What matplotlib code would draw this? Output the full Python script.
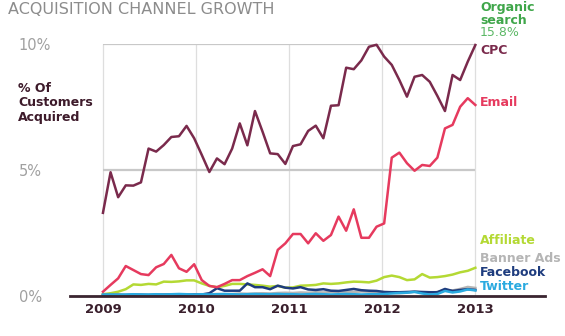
#!/usr/bin/env python3
"""
Acquisition channel growth: share of customers acquired per channel, 2009-2013
"""

import numpy as np
import matplotlib.pyplot as plt

# --- data (% of customers acquired), 50 readings between Jan 2009 and Jan 2013 ---
cpc = [3.30, 4.91, 3.92, 4.39, 4.38, 4.51, 5.85, 5.73, 5.99, 6.31,
       6.34, 6.75, 6.26, 5.60, 4.92, 5.46, 5.23, 5.85, 6.85, 5.98,
       7.34, 6.52, 5.66, 5.63, 5.24, 5.95, 6.02, 6.55, 6.76, 6.26,
       7.55, 7.57, 9.06, 9.00, 9.35, 9.89, 9.97, 9.50, 9.17, 8.57,
       7.91, 8.70, 8.77, 8.50, 7.94, 7.34, 8.77, 8.57, 9.30, 9.96]
email = [0.17, 0.44, 0.70, 1.19, 1.03, 0.87, 0.83, 1.14, 1.27, 1.63,
         1.10, 0.96, 1.26, 0.63, 0.40, 0.35, 0.48, 0.63, 0.63, 0.79,
         0.92, 1.06, 0.79, 1.83, 2.09, 2.46, 2.46, 2.09, 2.49, 2.19,
         2.42, 3.15, 2.59, 3.44, 2.31, 2.31, 2.75, 2.88, 5.49, 5.69,
         5.27, 4.97, 5.20, 5.16, 5.49, 6.65, 6.79, 7.51, 7.85, 7.58]
affiliate = [0.07, 0.11, 0.17, 0.27, 0.46, 0.44, 0.48, 0.46, 0.57, 0.56,
             0.58, 0.62, 0.62, 0.50, 0.40, 0.35, 0.40, 0.48, 0.48, 0.46,
             0.44, 0.41, 0.37, 0.40, 0.33, 0.34, 0.41, 0.42, 0.44, 0.50,
             0.48, 0.50, 0.54, 0.57, 0.56, 0.54, 0.61, 0.75, 0.81, 0.75,
             0.63, 0.66, 0.87, 0.73, 0.75, 0.79, 0.85, 0.94, 1.00, 1.12]
banner_ads = [0.03, 0.03, 0.04, 0.03, 0.04, 0.04, 0.03, 0.04, 0.05, 0.04,
              0.05, 0.05, 0.04, 0.05, 0.06, 0.08, 0.07, 0.08, 0.10, 0.09,
              0.10, 0.11, 0.10, 0.12, 0.13, 0.12, 0.14, 0.13, 0.15, 0.14,
              0.16, 0.15, 0.17, 0.16, 0.18, 0.17, 0.16, 0.15, 0.12, 0.11,
              0.13, 0.18, 0.14, 0.12, 0.16, 0.24, 0.22, 0.28, 0.36, 0.32]
facebook = [0.04, 0.04, 0.05, 0.04, 0.05, 0.05, 0.04, 0.05, 0.05, 0.06,
            0.05, 0.05, 0.06, 0.06, 0.11, 0.31, 0.21, 0.21, 0.21, 0.50,
            0.35, 0.35, 0.27, 0.41, 0.33, 0.30, 0.35, 0.26, 0.24, 0.27,
            0.21, 0.20, 0.24, 0.28, 0.23, 0.21, 0.20, 0.16, 0.15, 0.15,
            0.16, 0.17, 0.16, 0.15, 0.15, 0.28, 0.20, 0.24, 0.27, 0.24]
twitter = [0.06, 0.06, 0.05, 0.06, 0.07, 0.06, 0.06, 0.07, 0.06, 0.07,
           0.08, 0.07, 0.06, 0.07, 0.06, 0.07, 0.08, 0.07, 0.06, 0.07,
           0.08, 0.07, 0.07, 0.08, 0.07, 0.07, 0.06, 0.07, 0.08, 0.07,
           0.06, 0.07, 0.08, 0.07, 0.06, 0.07, 0.07, 0.08, 0.10, 0.12,
           0.13, 0.16, 0.10, 0.06, 0.08, 0.20, 0.14, 0.18, 0.26, 0.22]
organic_share = '15.8%'

years = [2009, 2010, 2011, 2012, 2013]
ytick_vals = [0, 5, 10]
ytick_labels = ['0%', '5%', '10%']

x = np.linspace(years[0], years[-1], len(cpc))

# цвета каналов
C_CPC = '#7a2a4c'
C_EMAIL = '#e63a5e'
C_AFF = '#b4d934'
C_BANNER = '#b5b5b5'
C_FB = '#1e3c7e'
C_TW = '#2aaae0'
C_ORG = '#3fa64a'

W, H = 565, 336
fig = plt.figure(figsize=(W / 100, H / 100), dpi=100)
ax = fig.add_axes([70 / W, 40 / H, 475 / W, 252 / H])
ax.set_xlim(2008.646, 2013.748)
ax.set_ylim(0, 10)

# сетка только внутри 2009-2013
ax.vlines(years, 0, 10, color='#dedede', linewidth=0.9, zorder=1)
ax.hlines([5, 10], years[0], years[-1], color='#c8c8c8', linewidth=1.6, zorder=1)

# линии каналов
ax.plot(x, banner_ads, color=C_BANNER, linewidth=1.8, zorder=3, clip_on=False)
ax.plot(x, affiliate, color=C_AFF, linewidth=1.8, zorder=3, clip_on=False)
ax.plot(x, facebook, color=C_FB, linewidth=1.8, zorder=4, clip_on=False)
ax.plot(x, twitter, color=C_TW, linewidth=1.8, zorder=4, clip_on=False)
ax.plot(x, email, color=C_EMAIL, linewidth=1.8, zorder=5, clip_on=False)
ax.plot(x, cpc, color=C_CPC, linewidth=1.8, zorder=6, clip_on=False)

for s in ['top', 'right', 'left']:
    ax.spines[s].set_visible(False)
ax.spines['bottom'].set_color('#3a2530')
ax.spines['bottom'].set_linewidth(2)
ax.spines['bottom'].set_zorder(7)

ax.set_xticks(years)
ax.set_xticklabels([str(y) for y in years], fontsize=9.5, fontweight='bold',
                   color='#3a1f2c')
ax.tick_params(axis='x', length=0, pad=5)

ax.set_yticks(ytick_vals)
ax.set_yticklabels(ytick_labels, fontsize=10.5, color='#a0a0a0')
for lab in ax.get_yticklabels():
    lab.set_horizontalalignment('left')
ax.tick_params(axis='y', length=0, pad=37)

# заголовок и подпись оси
fig.text(8 / W, 1 - 9 / H, 'ACQUISITION CHANNEL GROWTH', fontsize=11.5,
         color='#8c8c8c', va='center', ha='left')
fig.text(18 / W, 1 - 103 / H, '% Of\nCustomers\nAcquired', fontsize=9,
         fontweight='bold', color='#3d1a2a', va='center', ha='left',
         linespacing=1.1)

# подписи серий справа
lx = 480 / W
fig.text(lx, 1 - 1 / H, 'Organic\nsearch', fontsize=9, color=C_ORG,
         fontweight='bold', va='top', ha='left', linespacing=1.05)
labels = [
    (organic_share, 33, '#5cb866', 'normal'),
    ('CPC', 50, C_CPC, 'bold'),
    ('Email', 102, C_EMAIL, 'bold'),
    ('Affiliate', 241, C_AFF, 'bold'),
    ('Banner Ads', 258, C_BANNER, 'bold'),
    ('Facebook', 273, C_FB, 'bold'),
    ('Twitter', 287, C_TW, 'bold'),
]
for txt, py, col, wt in labels:
    fig.text(lx, 1 - py / H, txt, fontsize=9, color=col, fontweight=wt,
             va='center', ha='left')

plt.savefig('out.png', dpi=100)
plt.close()
